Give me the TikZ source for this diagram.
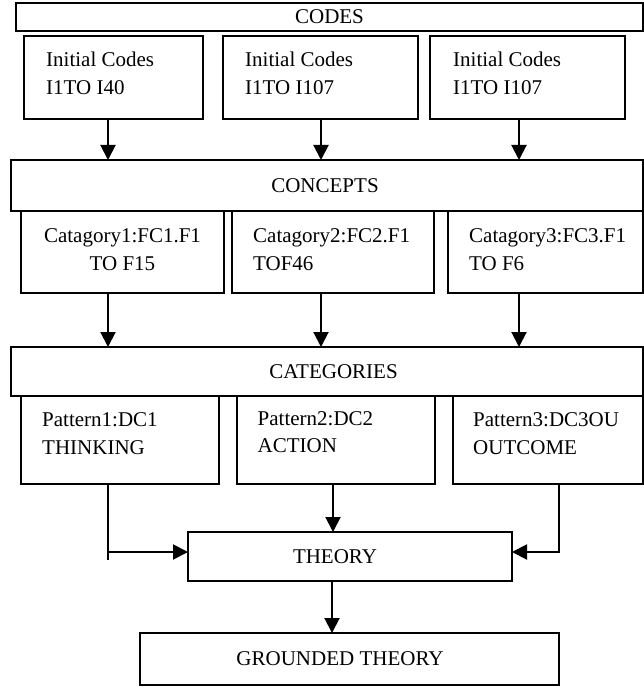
\documentclass[tikz,border=0pt]{standalone}
\usepackage{fontspec}
\setmainfont{Liberation Serif}
\usetikzlibrary{arrows.meta}
\begin{document}
\begin{tikzpicture}[x=1pt,y=-1pt,
  box/.style={draw,line width=1.8pt,inner sep=0pt,outer sep=0pt},
  txt/.style={inner sep=0pt,anchor=base west,font=\fontsize{21}{28}\selectfont},
  ctxt/.style={inner sep=0pt,anchor=base,font=\fontsize{21}{28}\selectfont},
  arr/.style={line width=2pt,-{Triangle[length=15pt,width=15pt]}},
  ln/.style={line width=2pt}]
\useasboundingbox (0,0) rectangle (644,687);

% column coordinates
\coordinate (a1) at (108,0);
\coordinate (a2) at (321,0);
\coordinate (a3) at (519,0);
\coordinate (b2) at (333,0);
\coordinate (b3) at (559,0);
\coordinate (g2) at (332,0);
\coordinate (h) at (0,552);
\coordinate (stub) at (108,560);

% CODES
\node[box,minimum width=627pt,minimum height=28pt] (codes) at (329.5,17) {};
\node[ctxt] (codest) at (329.5,24) {CODES};

% Initial codes
\node[box,minimum width=179pt,minimum height=83pt] (i1) at (113.5,77.5) {};
\node[box,minimum width=195pt,minimum height=83pt] (i2) at (320.5,77.5) {};
\node[box,minimum width=195pt,minimum height=83pt] (i3) at (527.5,77.5) {};
\node[txt] (i1a) at (46,67) {Initial Codes};
\node[txt] (i1b) at (46,95) {I1TO I40};
\node[txt] (i2a) at (245,67) {Initial Codes};
\node[txt] (i2b) at (245,95) {I1TO I107};
\node[txt] (i3a) at (453,67) {Initial Codes};
\node[txt] (i3b) at (453,95) {I1TO I107};

% CONCEPTS
\node[box,minimum width=632pt,minimum height=51pt] (concepts) at (327,185.5) {};
\node[ctxt] (conceptst) at (325,192) {CONCEPTS};

% Category boxes
\node[box,minimum width=203pt,minimum height=82pt] (c1) at (122.5,252) {};
\node[box,minimum width=202pt,minimum height=82pt] (c2) at (333,252) {};
\node[box,minimum width=195pt,minimum height=82pt] (c3) at (545.5,252) {};
\node[ctxt] (c1a) at (122.5,242) {Catagory1:FC1.F1};
\node[ctxt] (c1b) at (122.5,270) {TO F15};
\node[txt] (c2a) at (253,242) {Catagory2:FC2.F1};
\node[txt] (c2b) at (253,270) {TOF46};
\node[txt] (c3a) at (469,242) {Catagory3:FC3.F1};
\node[txt] (c3b) at (469,270) {TO F6};

% CATEGORIES
\node[box,minimum width=632pt,minimum height=49pt] (cats) at (327,371.5) {};
\node[ctxt] (catst) at (333.5,378) {CATEGORIES};

% Pattern boxes
\node[box,minimum width=198pt,minimum height=88pt] (p1) at (120,440) {};
\node[box,minimum width=198pt,minimum height=88pt] (p2) at (336,440) {};
\node[box,minimum width=190pt,minimum height=88pt] (p3) at (548,440) {};
\node[txt] (p1a) at (42,426) {Pattern1:DC1};
\node[txt] (p1b) at (42,454) {THINKING};
\node[txt] (p2a) at (257.5,425) {Pattern2:DC2};
\node[txt] (p2b) at (257.5,452) {ACTION};
\node[txt] (p3a) at (473,426) {Pattern3:DC3OU};
\node[txt] (p3b) at (473,454) {OUTCOME};

% THEORY
\node[box,minimum width=324pt,minimum height=49pt] (theory) at (350,556.5) {};
\node[ctxt] (theoryt) at (335,563) {THEORY};

% GROUNDED THEORY
\node[box,minimum width=419pt,minimum height=52pt] (gt) at (349.5,659) {};
\node[ctxt] (gtt) at (340,665) {GROUNDED THEORY};

% connectors
\draw[arr] (i1.south -| a1) -- (concepts.north -| a1);
\draw[arr] (i2.south -| a2) -- (concepts.north -| a2);
\draw[arr] (i3.south -| a3) -- (concepts.north -| a3);
\draw[arr] (c1.south -| a1) -- (cats.north -| a1);
\draw[arr] (c2.south -| a2) -- (cats.north -| a2);
\draw[arr] (c3.south -| a3) -- (cats.north -| a3);
\draw[ln] (p1.south -| a1) -- (stub);
\draw[arr] (p1.south -| a1) |- (theory.west |- h);
\draw[arr] (p2.south -| b2) -- (theory.north -| b2);
\draw[arr] (p3.south -| b3) |- (theory.east |- h);
\draw[arr] (theory.south -| g2) -- (gt.north -| g2);
\end{tikzpicture}
\end{document}
